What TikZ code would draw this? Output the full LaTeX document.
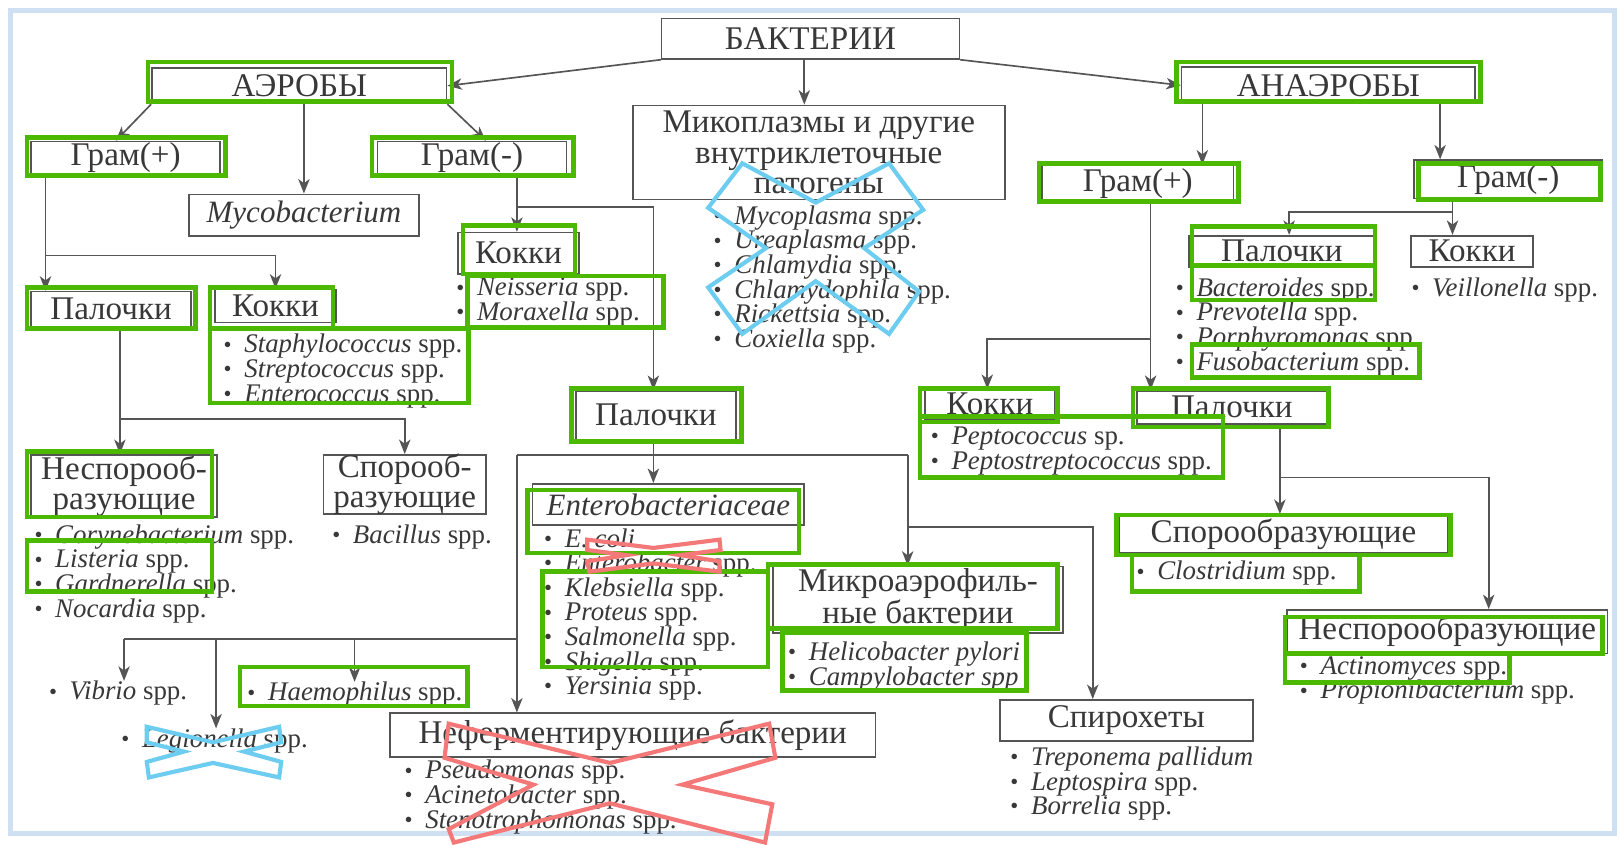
\documentclass[tikz,border=0pt]{standalone}
\usepackage{fontspec}
\setmainfont{Liberation Serif}
\usetikzlibrary{arrows.meta,fit,calc}
\definecolor{ink}{HTML}{383838}
\definecolor{lnc}{HTML}{555555}
\definecolor{grn}{HTML}{4DB800}
\definecolor{bxc}{HTML}{6CCDF0}
\definecolor{rxc}{HTML}{F47878}
\definecolor{frm}{HTML}{CFE0F3}
\newcommand\lab{\fontsize{16}{14.6}\selectfont}
\newcommand\spc{\fontsize{13}{11.9}\selectfont}
\newcommand\bu{\makebox[10pt][l]{\raisebox{0.4pt}{\scalebox{0.85}{•}}}}
\newcommand\isp[1]{\bu\textit{#1} spp.}
\newcommand\itx[1]{\bu\textit{#1}}
\tikzset{
 box/.style={draw=lnc, line width=0.8pt, inner sep=0pt},
 lbl/.style={inner sep=0pt, text=ink, font=\lab, align=center},
 arr/.style={draw=lnc, line width=0.8pt, -{Stealth[length=7pt,width=5.5pt,inset=2pt]}},
 lnk/.style={draw=lnc, line width=0.8pt},
 lst/.style={anchor=base west, inner sep=0pt, text=ink, font=\spc, align=left},
 grb/.style={draw=grn, line width=2.2pt},
 bxx/.style={draw=bxc, line width=2pt, line join=miter},
 rxx/.style={draw=rxc, line width=2pt, line join=miter},
}
\begin{document}
\begin{tikzpicture}[x=0.5pt,y=-0.5pt]
\useasboundingbox (0,0) rectangle (1568,817);
\fill[white] (0,0) rectangle (1568,817);
\draw[draw=frm, line width=2.5pt] (10,10) rectangle (1562,806);

% ---- boxes ----
\node[box, fit={(640,18) (928,57)}] (bakt) {};
\node[lbl] (bakt-t) at (bakt.center) {БАКТЕРИИ};
\node[box, fit={(147,66) (432,100)}] (aer) {};
\node[lbl] (aer-t) at (aer.center) {АЭРОБЫ};
\node[box, fit={(1143,65) (1427,100)}] (anaer) {};
\node[lbl] (anaer-t) at (anaer.center) {АНАЭРОБЫ};
\node[box, fit={(612,102) (972,193)}] (myco) {};
\node[lbl] (myco-t) at (myco.center) {Микоплазмы и другие\\внутриклеточные\\патогены};
\node[box, fit={(30,137) (213,168)}] (gpa) {};
\node[lbl] (gpa-t) at (gpa.center) {Грам(+)};
\node[box, fit={(183,188) (405,228)}] (mycob) {};
\node[lbl] (mycob-t) at (mycob.center) {\fontsize{15}{15}\selectfont\textit{Mycobacterium}};
\node[box, fit={(365,137) (548,168)}] (gma) {};
\node[lbl] (gma-t) at (gma.center) {Грам(-)};
\node[box, fit={(443,225) (560,265)}] (kok2) {};
\node[lbl] (kok2-t) at (kok2.center) {Кокки};
\node[box, fit={(30,282) (185,316)}] (pal1) {};
\node[lbl] (pal1-t) at (pal1.center) {Палочки};
\node[box, fit={(208,280) (325,312)}] (kok1) {};
\node[lbl] (kok1-t) at (kok1.center) {Кокки};
\node[box, fit={(30,440) (210,500)}] (nsp1) {};
\node[lbl] (nsp1-t) at (nsp1.center) {Неспорооб-\\разующие};
\node[box, fit={(313,440) (470,497)}] (spo1) {};
\node[lbl] (spo1-t) at (spo1.center) {Спорооб-\\разующие};
\node[box, fit={(557,378) (712,425)}] (pal2) {};
\node[lbl] (pal2-t) at (pal2.center) {Палочки};
\node[box, fit={(515,468) (778,508)}] (ent) {};
\node[lbl] (ent-t) at (ent.center) {\fontsize{15}{15}\selectfont\textit{Enterobacteriaceae}};
\node[box, fit={(748,548) (1028,612)}] (mic) {};
\node[lbl] (mic-t) at (mic.center) {Микроаэрофиль-\\ные бактерии};
\node[box, fit={(377,690) (847,732)}] (nef) {};
\node[lbl] (nef-t) at (nef.center) {Неферментирующие бактерии};
\node[box, fit={(967,677) (1212,717)}] (spi) {};
\node[lbl] (spi-t) at (spi.center) {Спирохеты};
\node[box, fit={(1008,160) (1193,195)}] (gpan) {};
\node[lbl] (gpan-t) at (gpan.center) {Грам(+)};
\node[box, fit={(1368,155) (1550,192)}] (gman) {};
\node[lbl] (gman-t) at (gman.center) {Грам(-)};
\node[box, fit={(1150,228) (1330,258)}] (pal3) {};
\node[lbl] (pal3-t) at (pal3.center) {Палочки};
\node[box, fit={(1365,228) (1483,258)}] (kok3) {};
\node[lbl] (kok3-t) at (kok3.center) {Кокки};
\node[box, fit={(895,377) (1020,405)}] (kok4) {};
\node[lbl] (kok4-t) at (kok4.center) {Кокки};
\node[box, fit={(1100,378) (1283,410)}] (pal4) {};
\node[lbl] (pal4-t) at (pal4.center) {Палочки};
\node[box, fit={(1083,498) (1400,535)}] (spo2) {};
\node[lbl] (spo2-t) at (spo2.center) {Спорообразующие};
\node[box, fit={(1245,590) (1555,632)}] (nsp2) {};
\node[lbl] (nsp2-t) at (nsp2.center) {Неспорообразующие};

% ---- lists (anchored at the baseline of their last line) ----
\node[lst] (lmyco) at (690,336) {\isp{Mycoplasma}\\\isp{Ureaplasma}\\\isp{Chlamydia}\\\isp{Chlamydophila}\\\isp{Rickettsia}\\\isp{Coxiella}};
\node[lst] (lneis) at (441,310) {\isp{Neisseria}\\\isp{Moraxella}};
\node[lst] (lstaph) at (216,389) {\isp{Staphylococcus}\\\isp{Streptococcus}\\\isp{Enterococcus}};
\node[lst] (lcory) at (33,597) {\isp{Corynebacterium}\\\isp{Listeria}\\\isp{Gardnerella}\\\isp{Nocardia}};
\node[lst] (lbac) at (321,526) {\isp{Bacillus}};
\node[lst] (lent) at (526,672) {\itx{E. coli}\\\isp{Enterobacter}\\\isp{Klebsiella}\\\isp{Proteus}\\\isp{Salmonella}\\\isp{Shigella}\\\isp{Yersinia}};
\node[lst] (lhel) at (762,663) {\itx{Helicobacter pylori}\\\itx{Campylobacter spp}};
\node[lst] (lspi) at (977,788) {\itx{Treponema pallidum}\\\isp{Leptospira}\\\isp{Borrelia}};
\node[lst] (lnef) at (391,801) {\isp{Pseudomonas}\\\isp{Acinetobacter}\\\isp{Stenotrophomonas}};
\node[lst] (lvib) at (47,677) {\isp{Vibrio}};
\node[lst] (lleg) at (117,723) {\isp{Legionella}};
\node[lst] (lhae) at (239,678) {\isp{Haemophilus}};
\node[lst] (lpep) at (900,454) {\bu\textit{Peptococcus} sp.\\\isp{Peptostreptococcus}};
\node[lst] (lbcr) at (1137,358) {\isp{Bacteroides}\\\isp{Prevotella}\\\isp{Porphyromonas}\\\isp{Fusobacterium}};
\node[lst] (lvei) at (1365,287) {\isp{Veillonella}};
\node[lst] (lclo) at (1099,561) {\isp{Clostridium}};
\node[lst] (lact) at (1257,676) {\isp{Actinomyces}\\\isp{Propionibacterium}};

% ---- connectors ----
\draw[arr] (bakt.south west) -- (aer.east);
\draw[arr] (bakt.south east) -- (anaer.west);
\draw[arr] (bakt.south -| 778,0) -- (myco.north -| 778,0);
\draw[arr] (aer.south west) -- (gpa.north -| 112,0);
\draw[arr] (aer.south -| mycob.north) -- (mycob.north);
\draw[arr] (aer.south east) -- (gma.north -| 470,0);

\draw[arr] (gpa.south -| 44,0) -- (pal1.north -| 44,0);
\coordinate (j1) at (44,247);
\draw[arr] (j1) -| (kok1.north);
\draw[arr] (pal1.south -| 116,0) -- (nsp1.north -| 116,0);
\coordinate (j2) at (116,405);
\draw[arr] (j2) -| (spo1.north);

\draw[arr] (gma.south -| 500,0) -- (kok2.north -| 500,0);
\coordinate (j3) at (500,200);
\draw[arr] (j3) -| (pal2.north -| 632,0);
\draw[arr] (pal2.south -| 632,0) -- (ent.north -| 632,0);
\coordinate (j4l) at (500,440);
\coordinate (j4r) at (878,440);
\draw[lnk] (j4l) -- (j4r);
\draw[arr] (j4l) -- (nef.north -| j4l);
\draw[arr] (j4r) -- (mic.north -| j4r);
\coordinate (j5) at (878,510);
\draw[arr] (j5) -| (spi.north -| 1057,0);
\coordinate (j6) at (500,618);
\coordinate (j6a) at (120,618);
\draw[lnk] (j6) -- (j6a);
\draw[arr] (j6a) -- (lvib.north -| j6a);
\draw[arr] (j6 -| 209,0) -- (lleg.north -| 209,0);
\draw[arr] (j6 -| 343,0) -- (lhae.north -| 343,0);

\draw[arr] (anaer.south -| 1163,0) -- (gpan.north -| 1163,0);
\draw[arr] (anaer.south -| 1393,0) -- (gman.north -| 1393,0);
\draw[arr] (gpan.south -| 1113,0) -- (pal4.north -| 1113,0);
\coordinate (j7) at (1113,328);
\draw[arr] (j7) -| (kok4.north -| 955,0);
\draw[arr] (pal4.south -| 1238,0) -- (spo2.north -| 1238,0);
\coordinate (j8) at (1238,462);
\draw[arr] (j8) -| (nsp2.north -| 1440,0);
\draw[arr] (gman.south -| 1405,0) -- (kok3.north -| 1405,0);
\coordinate (j9) at (1405,205);
\draw[arr] (j9) -| (pal3.north -| 1247,0);

% ---- green highlight boxes ----
\draw[grb] (143,60) rectangle (437,98);
\draw[grb] (26,133) rectangle (218,170);
\draw[grb] (360,133) rectangle (555,170);
\draw[grb] (448,218) rectangle (556,265);
\draw[grb] (452,267) rectangle (642,317);
\draw[grb] (26,278) rectangle (189,318);
\draw[grb] (203,278) rectangle (322,318);
\draw[grb] (203,318) rectangle (453,390);
\draw[grb] (26,437) rectangle (205,500);
\draw[grb] (26,523) rectangle (205,572);
\draw[grb] (232,645) rectangle (452,683);
\draw[grb] (553,376) rectangle (717,427);
\draw[grb] (510,474) rectangle (773,535);
\draw[grb] (525,553) rectangle (743,645);
\draw[grb] (743,546) rectangle (1023,608);
\draw[grb] (757,612) rectangle (993,668);
\draw[grb] (1138,60) rectangle (1432,98);
\draw[grb] (1005,158) rectangle (1198,195);
\draw[grb] (1372,158) rectangle (1548,193);
\draw[grb] (1153,219) rectangle (1330,257);
\draw[grb] (1153,257) rectangle (1330,290);
\draw[grb] (1153,333) rectangle (1373,365);
\draw[grb] (890,376) rectangle (1023,408);
\draw[grb] (890,403) rectangle (1183,462);
\draw[grb] (1096,376) rectangle (1285,413);
\draw[grb] (1080,498) rectangle (1403,537);
\draw[grb] (1095,537) rectangle (1315,572);
\draw[grb] (1243,597) rectangle (1550,632);
\draw[grb] (1243,632) rectangle (1460,660);

% ---- crosses ----
\draw[bxx] (685,201) -- (718,158) -- (789,196) -- (860,158) -- (893,203) -- (836,240)
 -- (889,282) -- (860,323) -- (789,272) -- (718,323) -- (685,278) -- (741,240) -- cycle;
\draw[bxx] (142,703) -- (206,718) -- (270,703) -- (272,718) -- (236,727) -- (272,737)
 -- (270,752) -- (206,738) -- (144,752) -- (142,737) -- (178,727) -- (142,718) -- cycle;
\draw[rxx] (568,522) -- (632,530) -- (696,522) -- (697,532) -- (658,537) -- (696,543)
 -- (696,553) -- (632,545) -- (570,553) -- (568,543) -- (606,537) -- (568,532) -- cycle;
\draw[rxx] (434,700) -- (590,738) -- (744,700) -- (750,733) -- (660,759) -- (747,778)
 -- (740,815) -- (590,777) -- (439,815) -- (434,802) -- (516,759) -- (430,733) -- cycle;
\end{tikzpicture}
\end{document}
